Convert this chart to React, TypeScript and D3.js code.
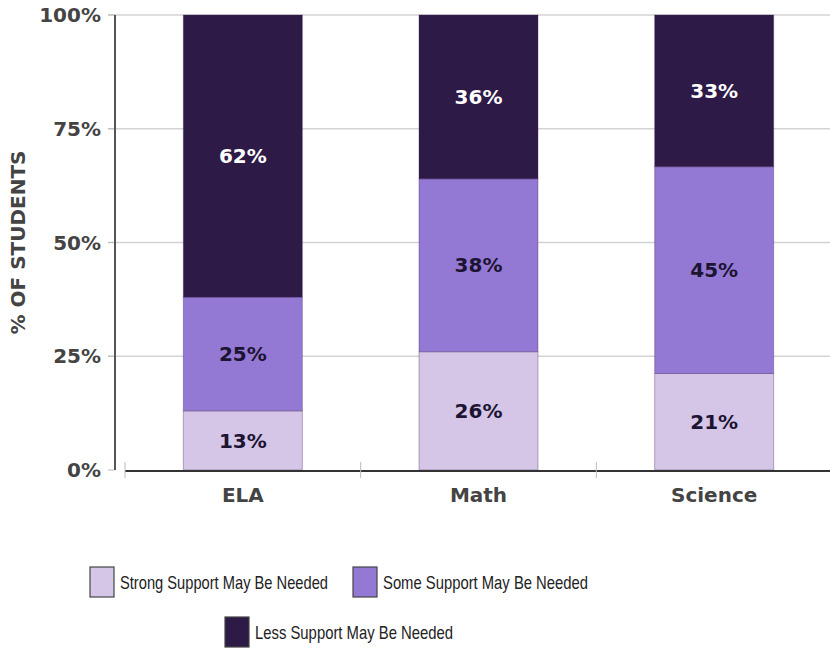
import { useEffect, useRef } from "react";
import * as d3 from "d3";

const subjects = ["ELA", "Math", "Science"];
const levels = [
	"Strong Support May Be Needed",
	"Some Support May Be Needed",
	"Less Support May Be Needed",
];
const strongSupport = [13, 26, 21];
const someSupport = [25, 38, 45];
const lessSupport = [62, 36, 33];
const yTicks = [0, 0.25, 0.5, 0.75, 1];
const colors = ["#d5c5e6", "#9479d4", "#2e1a47"];
const labelColors = ["#1c1433", "#1c1433", "#ffffff"];

export default function App() {
	const ref = useRef<SVGSVGElement>(null);

	useEffect(() => {
		if (!ref.current) return;
		const svg = d3.select(ref.current);
		svg.selectAll("*").remove();

		const width = 830;
		const height = 649;
		const bold = "'DejaVu Sans', Verdana, sans-serif";

		const rows = subjects.map((s, i) => ({
			subject: s,
			[levels[0]]: strongSupport[i],
			[levels[1]]: someSupport[i],
			[levels[2]]: lessSupport[i],
		}));

		// stacked to 100%
		const series = d3
			.stack<any>()
			.keys(levels)
			.offset(d3.stackOffsetExpand)(rows);

		const x = d3.scaleBand().domain(subjects).range([125, 832]);
		const y = d3.scaleLinear().domain([0, 1]).range([470, 15]);
		const barW = 119;

		// gridlines
		svg
			.append("g")
			.selectAll("line")
			.data(yTicks.filter((t) => t > 0))
			.join("line")
			.attr("x1", 108)
			.attr("x2", width)
			.attr("y1", (d) => y(d))
			.attr("y2", (d) => y(d))
			.attr("stroke", "#d3d3d3")
			.attr("stroke-width", 1.5);

		// y ticks and labels
		const yAxis = svg.append("g");
		yAxis
			.selectAll("line")
			.data(yTicks)
			.join("line")
			.attr("x1", 108)
			.attr("x2", 115)
			.attr("y1", (d) => y(d))
			.attr("y2", (d) => y(d))
			.attr("stroke", "#bbb");
		yAxis
			.selectAll("text")
			.data(yTicks)
			.join("text")
			.attr("x", 101)
			.attr("y", (d) => y(d))
			.attr("dy", "0.36em")
			.attr("text-anchor", "end")
			.attr("font-family", bold)
			.attr("font-weight", "bold")
			.attr("font-size", 20)
			.attr("fill", "#444")
			.text((d) => d3.format(".0%")(d));

		yAxis
			.append("line")
			.attr("x1", 115)
			.attr("x2", 115)
			.attr("y1", y(1))
			.attr("y2", y(0))
			.attr("stroke", "#555")
			.attr("stroke-width", 2);

		svg
			.append("text")
			.attr("transform", `translate(25,${(y(0) + y(1)) / 2}) rotate(-90)`)
			.attr("text-anchor", "middle")
			.attr("font-family", bold)
			.attr("font-weight", "bold")
			.attr("font-size", 20)
			.attr("fill", "#444")
			.text("% OF STUDENTS");

		// bars
		const layer = svg
			.append("g")
			.selectAll("g")
			.data(series)
			.join("g")
			.attr("fill", (_, i) => colors[i]);

		layer
			.selectAll("rect")
			.data((d) => d)
			.join("rect")
			.attr("x", (d: any) => (x(d.data.subject) as number) + (x.bandwidth() - barW) / 2)
			.attr("width", barW)
			.attr("y", (d) => y(d[1]))
			.attr("height", (d) => y(d[0]) - y(d[1]))
			.attr("stroke", "rgba(60,30,90,0.35)")
			.attr("stroke-width", 1);

		layer
			.selectAll("text")
			.data((d, i) => d.map((p) => ({ p, i, key: d.key })))
			.join("text")
			.attr("x", (d: any) => (x(d.p.data.subject) as number) + x.bandwidth() / 2)
			.attr("y", (d) => y((d.p[0] + d.p[1]) / 2))
			.attr("dy", "0.36em")
			.attr("text-anchor", "middle")
			.attr("font-family", bold)
			.attr("font-weight", "bold")
			.attr("font-size", 20)
			.attr("fill", (d) => labelColors[d.i])
			.text((d: any) => `${d.p.data[d.key]}%`);

		// x axis
		const xAxis = svg.append("g");
		xAxis
			.append("line")
			.attr("x1", 125)
			.attr("x2", width)
			.attr("y1", y(0) + 1)
			.attr("y2", y(0) + 1)
			.attr("stroke", "#333")
			.attr("stroke-width", 2);
		xAxis
			.selectAll("line.tick")
			.data(subjects)
			.join("line")
			.attr("class", "tick")
			.attr("x1", (d) => x(d) as number)
			.attr("x2", (d) => x(d) as number)
			.attr("y1", y(0) - 8)
			.attr("y2", y(0) + 8)
			.attr("stroke", "#bbb");
		xAxis
			.selectAll("text")
			.data(subjects)
			.join("text")
			.attr("x", (d) => (x(d) as number) + x.bandwidth() / 2)
			.attr("y", 502)
			.attr("text-anchor", "middle")
			.attr("font-family", bold)
			.attr("font-weight", "bold")
			.attr("font-size", 20)
			.attr("fill", "#444")
			.text((d) => d);

		// legend
		const legendPos = [
			{ x: 90, y: 567, w: 208 },
			{ x: 353, y: 567, w: 205 },
			{ x: 225, y: 617, w: 198 },
		];
		const legend = svg
			.append("g")
			.selectAll("g")
			.data(levels)
			.join("g")
			.attr("transform", (_, i) => `translate(${legendPos[i].x},${legendPos[i].y})`);
		legend
			.append("rect")
			.attr("width", 24)
			.attr("height", 30)
			.attr("fill", (_, i) => colors[i])
			.attr("stroke", "#444")
			.attr("stroke-width", 1.2);
		legend
			.append("text")
			.attr("x", 30)
			.attr("y", 22)
			.attr("font-family", "'Liberation Sans Narrow', 'Liberation Sans', Arial, sans-serif")
			.attr("font-size", 19)
			.attr("fill", "#222")
			.attr("textLength", (_, i) => legendPos[i].w)
			.attr("lengthAdjust", "spacingAndGlyphs")
			.text((d) => d);

		svg.attr("width", width).attr("height", height);
	}, []);

	return (
		<svg
			ref={ref}
			style={{ position: "absolute", left: 0, top: 0, background: "#fff" }}
			width={830}
			height={649}
		/>
	);
}
